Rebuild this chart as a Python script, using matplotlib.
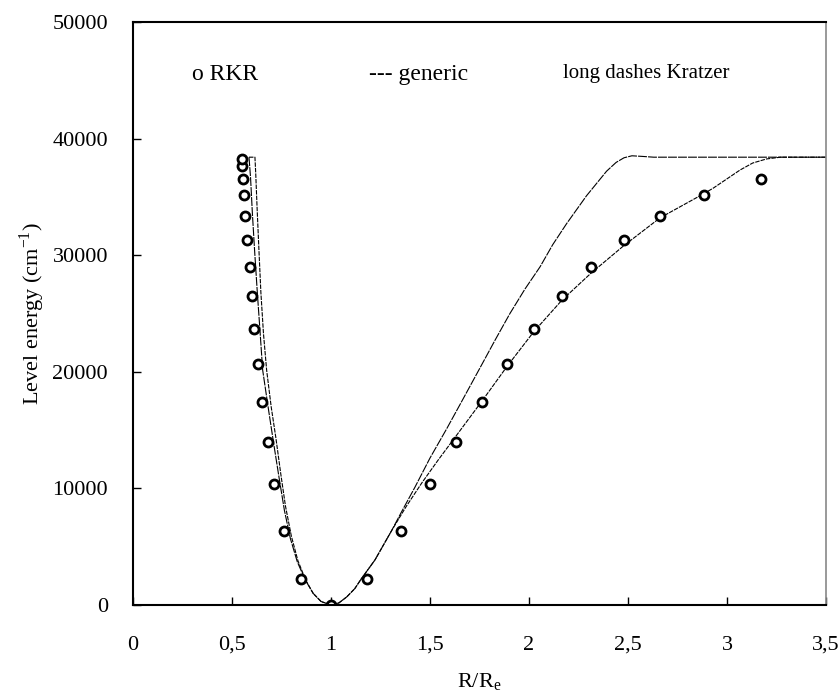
import numpy as np
import matplotlib
matplotlib.use("Agg")
import matplotlib.pyplot as plt
from matplotlib.ticker import FuncFormatter

plt.rcParams['font.family'] = ['Liberation Serif', 'DejaVu Serif']

# RKR turning points (R/Re) and level energies (cm-1)
rkr_E_left = [0, 2250, 6370, 10350, 14000, 17450, 20700, 23700, 26500, 29000,
              31330, 33360, 35140, 36570, 37650, 38220]
rkr_R_left = [1.0, 0.847, 0.763, 0.714, 0.682, 0.652, 0.633, 0.613, 0.601, 0.589,
              0.577, 0.567, 0.561, 0.554, 0.551, 0.551]
rkr_E_right = [2250, 6370, 10350, 14000, 17450, 20700, 23700, 26500, 29000,
               31330, 33360, 35140, 36570]
rkr_R_right = [1.180, 1.354, 1.500, 1.631, 1.761, 1.891, 2.025, 2.167, 2.313,
               2.478, 2.662, 2.886, 3.170]

# Kratzer curve (steeper outer wall)
kr_R = [0.586, 0.594, 0.603, 0.615, 0.628, 0.642, 0.655, 0.685, 0.712, 0.738,
        0.765, 0.795, 0.83, 0.87, 0.91, 0.95, 1.0, 1.04, 1.08, 1.12, 1.155,
        1.222, 1.306, 1.36, 1.424, 1.5, 1.584, 1.652, 1.75, 1.83, 1.904, 1.98,
        2.056, 2.12, 2.19, 2.291, 2.392, 2.44, 2.48, 2.52, 2.57, 2.63, 2.8, 3.5]
kr_E = [38400, 36600, 33600, 30200, 26800, 23400, 20150, 16700, 13700, 10900,
        8100, 5700, 3700, 2150, 1000, 300, 0, 180, 700, 1400, 2290,
        3860, 6370, 8100, 10100, 12600, 15100, 17200, 20250, 22750, 25000, 27100,
        29000, 30900, 32700, 35100, 37200, 37950, 38350, 38520, 38470, 38400,
        38400, 38400]

# generic curve (follows RKR)
gen_R = [0.586, 0.616, 0.620, 0.627, 0.636, 0.646, 0.659, 0.675, 0.698, 0.722,
         0.746, 0.77, 0.80, 0.833, 0.872, 0.91, 0.95, 1.0, 1.04, 1.08, 1.12,
         1.155, 1.222, 1.306, 1.38, 1.46, 1.54, 1.621, 1.761, 1.891, 2.025,
         2.167, 2.313, 2.478, 2.662, 2.886, 2.931, 3.066, 3.13, 3.2, 3.27, 3.5]
gen_E = [38400, 38400, 37000, 34000, 30500, 26800, 23300, 20150, 17000, 14300,
         11300, 8500, 5900, 3800, 2150, 1000, 300, 0, 180, 700, 1400,
         2290, 3860, 6370, 8450, 10500, 12400, 14250, 17450, 20500, 23450,
         26150, 28450, 30800, 33200, 35300, 35750, 37300, 37900, 38250, 38400, 38400]

x_ticks = [0, 0.5, 1, 1.5, 2, 2.5, 3, 3.5]
y_ticks = [0, 10000, 20000, 30000, 40000, 50000]

fig = plt.figure(figsize=(8.4, 7), dpi=100)
ax = fig.add_axes([0.1583, 0.1357, 0.825, 0.833])

ax.plot(gen_R, gen_E, color='black', lw=0.8, ls=(0, (4, 1)))
ax.plot(kr_R, kr_E, color='black', lw=0.8, ls=(0, (8, 1)))
ax.plot(rkr_R_left + rkr_R_right, rkr_E_left + rkr_E_right, ls='none',
        marker='o', ms=6.5, mfc='white', mec='black', mew=2)

ax.set_xlim(0, 3.5)
ax.set_ylim(0, 50000)
ax.set_xticks(x_ticks)
ax.set_yticks(y_ticks)
ax.xaxis.set_major_formatter(FuncFormatter(lambda v, p: ('%g' % v).replace('.', ',')))
ax.tick_params(direction='in', length=6, width=1, labelsize=16)
ax.tick_params(axis='x', pad=22)
ax.tick_params(axis='y', pad=18)

for s in ['left', 'bottom', 'top']:
    ax.spines[s].set_linewidth(1.5)
ax.spines['right'].set_color('#888888')
ax.spines['right'].set_linewidth(1.2)

ax.set_xlabel('R/R$_\\mathregular{e}$', fontsize=16, labelpad=12)
ax.set_ylabel('Level energy (cm$^{\\mathregular{-1}}$)', fontsize=16, labelpad=4)

ax.text(0.30, 45500, 'o RKR', fontsize=17, va='center')
ax.text(1.19, 45500, '--- generic', fontsize=17, va='center')
ax.text(2.17, 45600, 'long dashes Kratzer', fontsize=15, va='center')

fig.savefig('out.png', dpi=100)
